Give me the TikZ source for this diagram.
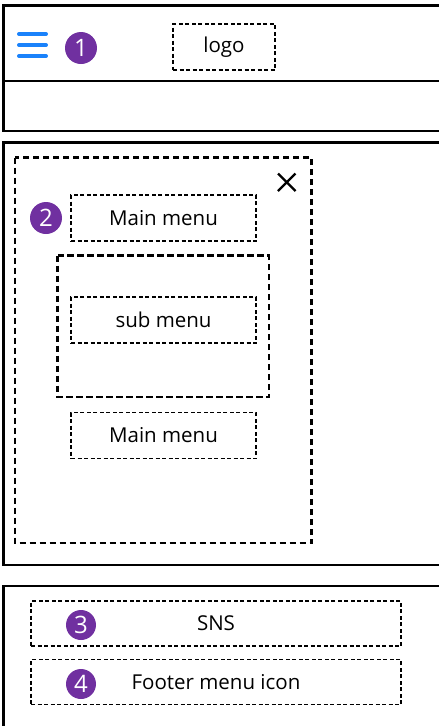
\documentclass[tikz,border=0pt]{standalone}
\usepackage{fontspec}
\setmainfont{Open Sans}
\begin{document}
\begin{tikzpicture}[x=1pt,y=-1pt,
  frame/.style={draw=black,line width=2.4pt},
  thinbox/.style={draw=black,line width=1.4pt,dash pattern=on 4pt off 2.5pt,rectangle,inner sep=0pt,font=\fontsize{20.5}{23}\selectfont},
  thickbox/.style={draw=black,line width=2.2pt,dash pattern=on 6.5pt off 3.5pt},
  badge/.style={circle,fill=badgepurple,text=white,minimum size=32pt,inner sep=0pt,font=\fontsize{24}{26}\selectfont},
  burger/.style={draw=burgerblue,line width=4pt,line cap=round}]
\definecolor{badgepurple}{HTML}{7030A0}
\definecolor{burgerblue}{HTML}{1A82FB}
\useasboundingbox (0,0) rectangle (439,726);
% header frame
\draw[frame] (450,5.5) -- (3.5,5.5) -- (3.5,131) -- (450,131);
\draw[frame] (3.5,81) -- (450,81);
% hamburger
\coordinate (h1a) at (19,34); \coordinate (h1b) at (46,34);
\coordinate (h2a) at (19,45); \coordinate (h2b) at (46,45);
\coordinate (h3a) at (19,56); \coordinate (h3b) at (46,56);
\draw[burger] (h1a) -- (h1b);
\draw[burger] (h2a) -- (h2b);
\draw[burger] (h3a) -- (h3b);
\node[badge] (b1) at (81,48) {1};
\node[thinbox,minimum width=102pt,minimum height=46pt] (logo) at (224,47) {logo};
% menu frame
\draw[frame] (450,142.5) -- (3.5,142.5) -- (3.5,565) -- (450,565);
\draw[thickbox] (15,157.5) rectangle (311.5,543);
\coordinate (xa) at (278,173.5); \coordinate (xb) at (295.5,191);
\coordinate (xc) at (278,191); \coordinate (xd) at (295.5,173.5);
\draw[line width=2.4pt] (xa) -- (xb) (xc) -- (xd);
\node[badge] (b2) at (46,218) {2};
\node[thinbox,minimum width=185pt,minimum height=46pt] (m1) at (163.5,218) {Main menu};
\draw[thickbox] (57.5,255.5) rectangle (269,397);
\node[thinbox,minimum width=185pt,minimum height=46pt] (sub) at (163.5,320) {sub menu};
\node[thinbox,minimum width=185pt,minimum height=46pt] (m2) at (163.5,435.5) {Main menu};
% footer frame
\draw[frame] (450,586) -- (3.5,586) -- (3.5,727) -- (450,727);
\node[thinbox,minimum width=370pt,minimum height=45pt] (sns) at (216,623.5) {SNS};
\node[thinbox,minimum width=370pt,minimum height=45pt] (foot) at (216,682) {\raisebox{-1pt}{Footer menu icon}};
\node[badge,minimum size=30pt] (b3) at (81,625) {3};
\node[badge,minimum size=30pt] (b4) at (81,684) {4};
\end{tikzpicture}
\end{document}
